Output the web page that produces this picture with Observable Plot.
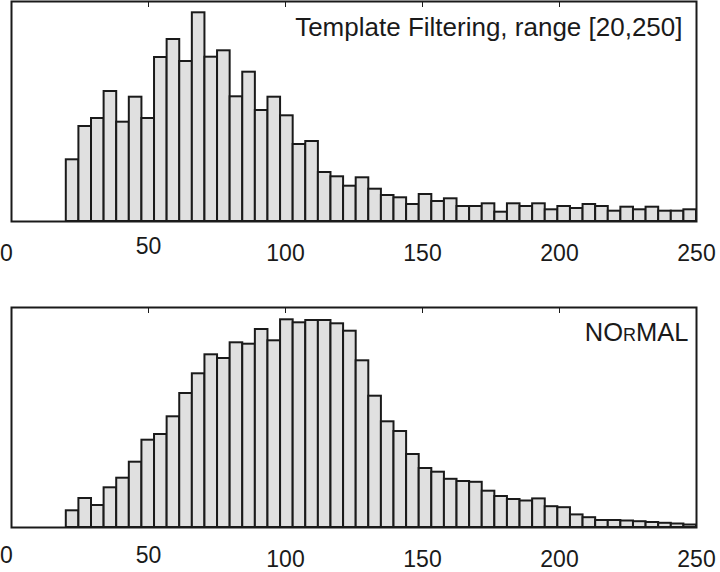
<!DOCTYPE html>
<html><head><meta charset="utf-8">
<script src="https://cdn.jsdelivr.net/npm/d3@7"></script>
<script src="https://cdn.jsdelivr.net/npm/@observablehq/plot@0.6"></script>
<style>
html,body{margin:0;padding:0;background:#fff;}
#chart{width:720px;height:572px;overflow:hidden;}
#chart svg{display:block;}
</style></head><body><div id="chart"></div>
<script>
// Histogram bins: 50 equal bins over [20, 250]
const binRange = [20, 250];
const binCount = 50;

// Panel 1: Template Filtering, range [20,250] (relative bin heights)
const templateCounts = [
  61.7, 95, 103, 130, 99.3, 124.3, 103, 164, 182, 160,
  208.7, 164.3, 170.7, 124.7, 149.3, 111, 124.3, 105.7, 77, 80,
  49, 44.7, 35.3, 43.7, 32.3, 26, 23.7, 17, 27, 20,
  22.7, 15, 15, 17.7, 9.3, 17.7, 15, 17.7, 11.7, 15,
  13, 17, 15, 10.3, 14.3, 11.7, 14.3, 10.3, 10.3, 11.7
];

// Panel 2: NORMAL (relative bin heights)
const normalCounts = [
  16.7, 29, 22, 39.7, 49.3, 65.3, 87.3, 93, 110.7, 134,
  153.7, 172.7, 169, 184.7, 183.3, 198, 186.7, 207.7, 204.7, 207,
  207, 203.7, 196.3, 166.7, 131.3, 105.7, 96, 73, 59, 55.3,
  48.2, 46, 45.2, 36.3, 31, 28, 26.5, 28.6, 20.8, 19.8,
  12.6, 9.8, 7, 7, 6.5, 5.8, 5, 4.2, 3.5, 2.5
];

const panelTitles = ["Template Filtering, range [20,250]", "NOrMAL"];
const xDomain = [0, 250];
const xTickLabels = [0, 50, 100, 150, 200, 250];
const innerTicks = [50, 100, 150, 200];

function binTable(counts) {
  const w = (binRange[1] - binRange[0]) / binCount;
  return counts.map((c, i) => ({x1: binRange[0] + i * w, x2: binRange[0] + (i + 1) * w, count: c}));
}

const ink = "#1a1a1a";
const font = "'Liberation Sans', Arial, sans-serif";

function labelAxis(ticks, pad, dx) {
  return Plot.axisX(ticks, {anchor: "bottom", tickSize: 0, tickPadding: pad, dx, fontSize: 23, fill: ink, label: null});
}

function panel(counts, title, o) {
  const first = [xTickLabels[0]];
  const rest = xTickLabels.slice(1);
  return Plot.plot({
    width: 720,
    height: o.height,
    marginLeft: 11,
    marginRight: 24,
    marginTop: o.marginTop,
    marginBottom: o.marginBottom,
    style: {fontFamily: font, color: ink, background: "#fff", overflow: "visible"},
    x: {domain: xDomain},
    y: {domain: [0, 220], axis: null},
    marks: [
      Plot.rectY(binTable(counts), {x1: "x1", x2: "x2", y: "count", fill: "#e0e0e0", stroke: ink, strokeWidth: 2}),
      Plot.frame({stroke: ink, strokeWidth: 2}),
      Plot.axisX(innerTicks, {anchor: "top", tickSize: -5, tickFormat: () => "", label: null, stroke: ink}),
      labelAxis(first, o.raised.includes(first[0]) ? o.padRaised : o.pad, -5),
      labelAxis(rest.filter(t => !o.raised.includes(t)), o.pad, 0),
      labelAxis(rest.filter(t => o.raised.includes(t)), o.padRaised, 0),
      Plot.text([title], {frameAnchor: "top-right", textAnchor: "end", lineAnchor: "top", dx: o.titleDx, dy: o.titleDy, fontSize: o.titleSize, fill: ink, fontVariant: o.variant})
    ]
  });
}

const chart = document.getElementById("chart");
chart.appendChild(panel(templateCounts, panelTitles[0], {height: 290, marginTop: 1, marginBottom: 69, pad: 22.7, raised: [50], padRaised: 16, titleDx: -14, titleDy: 15.7, titleSize: 26, variant: "normal"}));
chart.appendChild(panel(normalCounts, panelTitles[1], {height: 282, marginTop: 17, marginBottom: 45, pad: 23.5, raised: [0, 50], padRaised: 19, titleDx: -8, titleDy: 15, titleSize: 25.5, variant: "small-caps"}));
</script>
</body></html>
